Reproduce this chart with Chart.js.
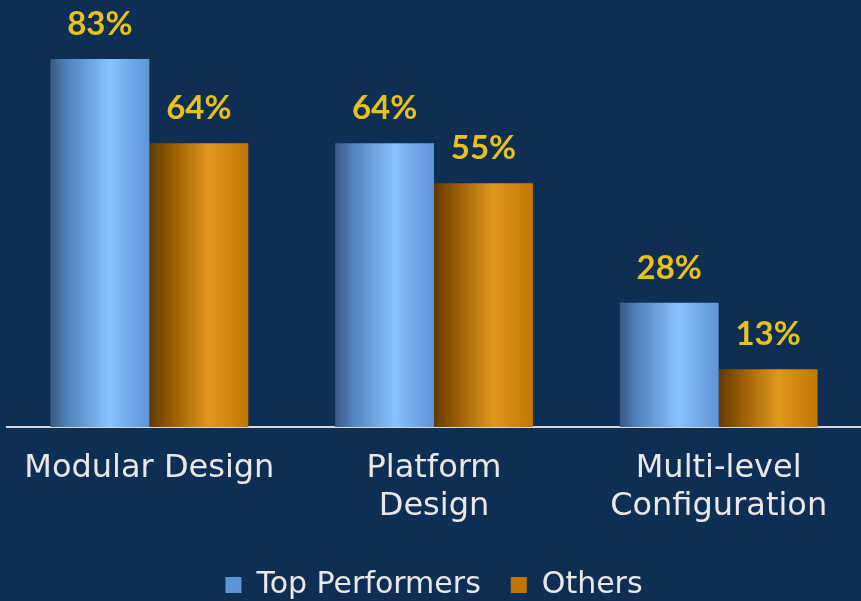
<!DOCTYPE html>
<html>
<head>
<meta charset="utf-8">
<script src="https://cdn.jsdelivr.net/npm/chart.js@4/dist/chart.umd.min.js"></script>
<style>
  html, body { margin: 0; padding: 0; background: #0f2e53; }
  #wrap { width: 861px; height: 601px; }
</style>
</head>
<body>
<div id="wrap"><canvas id="chart"></canvas></div>
<script>
// Categories and series
const categories = ['Modular Design', ['Platform', 'Design'], ['Multi-level', 'Configuration']];
const topPerformers = [83, 64, 28];
const others = [64, 55, 13];
const seriesNames = ['Top Performers', 'Others'];

const CAT_PCT = 0.695;
const legendColors = ['#6fa8ee', '#c07800'];
const gradientStops = [
    [[0, '#3a5a82'], [0.18, '#5283bd'], [0.6, '#88c3ff'], [0.72, '#79b3f2'], [1, '#5f94d6']],
    [[0, '#603a00'], [0.2, '#925800'], [0.6, '#e0981e'], [0.72, '#d88e14'], [1, '#bf7704']]
];

// cylinder-like shading across each bar
function barFill(ctx) {
    const chart = ctx.chart;
    if (ctx.type !== 'data' || !chart.chartArea) return legendColors[ctx.datasetIndex];
    const xs = chart.scales.x;
    const catW = xs.width / categories.length;
    const barW = catW * CAT_PCT / 2;
    const left = xs.getPixelForValue(ctx.dataIndex) - catW * CAT_PCT / 2 + ctx.datasetIndex * barW;
    const g = chart.ctx.createLinearGradient(left, 0, left + barW, 0);
    gradientStops[ctx.datasetIndex].forEach(([p, c]) => g.addColorStop(p, c));
    return g;
}

// percentage labels above bars
const valueLabels = {
    id: 'valueLabels',
    afterDatasetsDraw(chart) {
        const c = chart.ctx;
        c.save();
        c.fillStyle = '#e8c21a';
        c.font = 'bold 33px Lato, sans-serif';
        c.textAlign = 'center';
        c.textBaseline = 'alphabetic';
        chart.data.datasets.forEach((ds, i) => {
            chart.getDatasetMeta(i).data.forEach((bar, j) => {
                c.fillText(ds.data[j] + '%', bar.x, bar.y - 24);
            });
        });
        c.restore();
    }
};

new Chart(document.getElementById('chart'), {
    type: 'bar',
    data: {
        labels: categories,
        datasets: [
            { label: seriesNames[0], data: topPerformers, backgroundColor: barFill },
            { label: seriesNames[1], data: others, backgroundColor: barFill }
        ]
    },
    options: {
        responsive: true,
        maintainAspectRatio: false,
        animation: false,
        categoryPercentage: CAT_PCT,
        barPercentage: 1,
        layout: { padding: { left: 7, right: 0, top: 0, bottom: -9 } },
        scales: {
            x: {
                grid: { display: false, drawTicks: false },
                border: { color: '#d8d8d8', width: 2 },
                ticks: {
                    color: '#e8e8e8',
                    padding: 23,
                    maxRotation: 0,
                    font: { family: 'DejaVu Sans', size: 32, lineHeight: 1.19 }
                },
                afterFit(scale) { scale.height = 113; }
            },
            y: { display: false, min: 0, max: 96.3 }
        },
        plugins: {
            legend: {
                position: 'bottom',
                labels: {
                    color: '#e8e8e8',
                    boxWidth: 16,
                    boxHeight: 16,
                    padding: 30,
                    font: { family: 'DejaVu Sans', size: 30 }
                }
            },
            tooltip: { enabled: false }
        }
    },
    plugins: [valueLabels]
});
</script>
</body>
</html>
